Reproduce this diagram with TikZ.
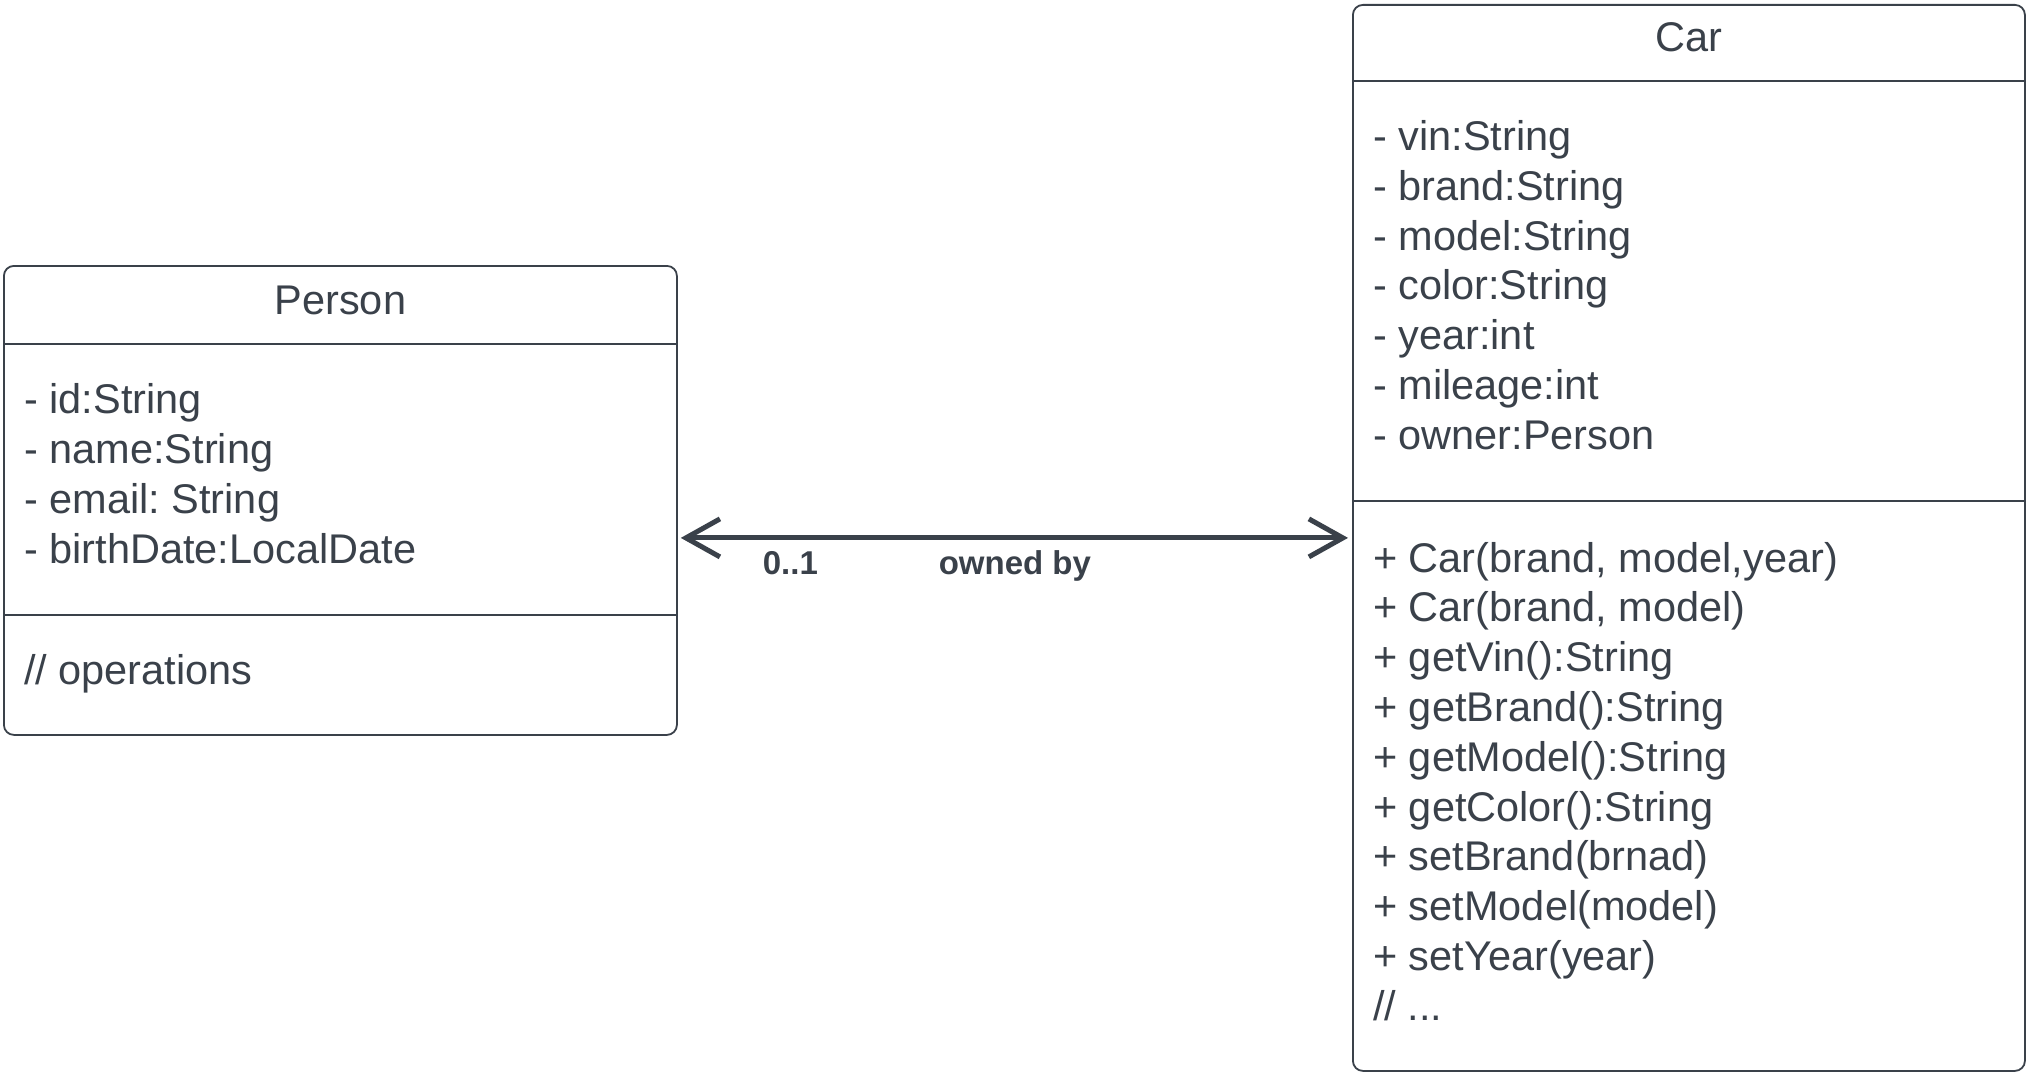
\documentclass[tikz,border=0pt]{standalone}
\usepackage{fontspec}
\setmainfont{Liberation Sans}
\usetikzlibrary{arrows.meta}
\definecolor{umlgray}{HTML}{3A414A}
\newcommand{\umlfont}{\frenchspacing\fontsize{41.5}{49.8}\selectfont}
\tikzset{
  classbox/.style={draw=umlgray,line width=1.8pt,rounded corners=10pt,anchor=north west,inner sep=0pt},
  classname/.style={text=umlgray,font=\umlfont,anchor=base,inner sep=0pt},
  members/.style={text=umlgray,font=\umlfont,align=left,anchor=base west,inner sep=0pt},
  divider/.style={draw=umlgray,line width=1.8pt},
  assoc/.style={draw=umlgray,line width=5pt,
    {Straight Barb[length=34pt,width=38pt]}-{Straight Barb[length=34pt,width=38pt]},
    shorten <=4pt,shorten >=3pt},
  assoclabel/.style={text=umlgray,font=\bfseries\fontsize{33}{40}\selectfont,anchor=base,inner sep=0pt,yshift=-36.5pt}
}

\begin{document}
\begin{tikzpicture}[x=1pt,y=-1pt]
  \useasboundingbox (0,0) rectangle (2027,1073);

  % Person (member nodes are placed by the baseline of their last line)
  \node[classbox,minimum width=673pt,minimum height=469pt] (person) at (3,265) {};
  \node[classname] (person name) at ([yshift=-49pt]person.north) {Person};
  \draw[divider] ([yshift=-79pt]person.north west) -- ([yshift=-79pt]person.north east);
  \node[members] (person attrs) at ([xshift=21pt,yshift=-298pt]person.north west)
    {- id:String\\- name:String\\- email: String\\- birthDate:LocalDate};
  \draw[divider] ([yshift=-350pt]person.north west) -- ([yshift=-350pt]person.north east);
  \node[members] (person ops) at ([xshift=21pt,yshift=-419pt]person.north west) {// operations};

  % Car
  \node[classbox,minimum width=672pt,minimum height=1066pt] (car) at (1352,4) {};
  \node[classname] (car name) at ([yshift=-48pt]car.north) {Car};
  \draw[divider] ([yshift=-77pt]car.north west) -- ([yshift=-77pt]car.north east);
  \node[members] (car attrs) at ([xshift=21pt,yshift=-445.3pt]car.north west)
    {- vin:String\\- brand:String\\- model:String\\- color:String\\- year:int\\- mileage:int\\- owner:Person};
  \draw[divider] ([yshift=-497pt]car.north west) -- ([yshift=-497pt]car.north east);
  \node[members] (car ops) at ([xshift=21pt,yshift=-1016.2pt]car.north west)
    {+ Car(brand, model,year)\\+ Car(brand, model)\\+ getVin():String\\+ getBrand():String\\+ getModel():String\\+ getColor():String\\+ setBrand(brnad)\\+ setModel(model)\\+ setYear(year)\\// ...};

  % association
  \draw[assoc] (car.west) -- (car.west -| person.east)
    node[assoclabel,pos=0.5] (owned) {owned by}
    node[assoclabel,pos=0.833] (mult) {0..1};
\end{tikzpicture}
\end{document}
